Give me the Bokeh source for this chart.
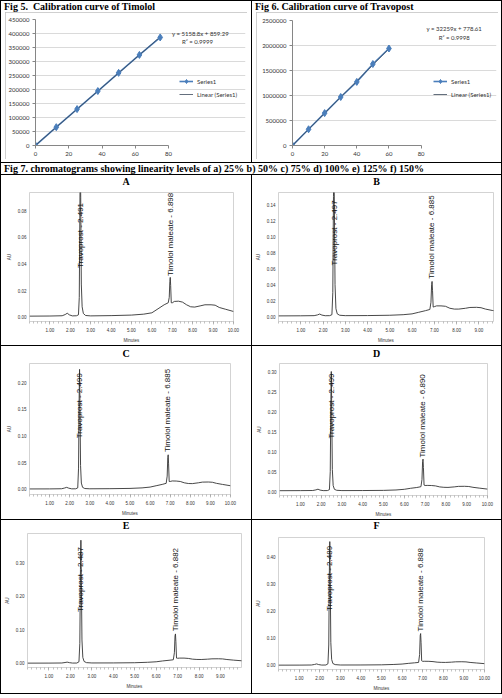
import math
from bokeh.plotting import figure
from bokeh.layouts import column, row
from bokeh.models import Div, Spacer, Range1d, Label, Legend, LegendItem, FixedTicker, PrintfTickFormatter
from bokeh.core.properties import value
from bokeh.embed import file_html
from bokeh.resources import INLINE

# ---------------- calibration data ----------------
tim_conc = [0, 12.5, 25, 37.5, 50, 62.5, 75]
tim_area = [0, 65500, 130000, 194500, 259500, 323500, 386000]
tim_slope, tim_icept = 5158.8, 859.29
trav_conc = [0, 10, 20, 30, 40, 50, 60]
trav_area = [0, 325000, 648000, 970000, 1272000, 1630000, 1940000]
trav_slope, trav_icept = 32259, 778.61
calib_xticks = [0, 20, 40, 60, 80]

# ---------------- chromatogram data ----------------
t_min = [0.00, 1.00, 1.60, 1.75, 1.85, 1.95, 2.10, 2.30, 2.40, 2.44,
         2.47, 2.49, 2.51, 2.54, 2.58, 2.64, 2.75, 3.00, 4.00, 5.00,
         5.60, 6.00, 6.30, 6.60, 6.80, 6.85, 6.88, 6.90, 6.92, 6.95,
         7.00, 7.10, 7.30, 7.50, 7.70, 7.90, 8.10, 8.40, 8.60, 8.90,
         9.10, 9.30, 9.60, 10.00]
A_au = [0.0010, 0.0011, 0.0013, 0.0022, 0.0032, 0.0020, 0.0012, 0.0013, 0.0020, 0.0150,
        0.0800, 0.1300, 0.0900, 0.0250, 0.0080, 0.0030, 0.0015, 0.0012, 0.0014, 0.0018,
        0.0025, 0.0035, 0.0065, 0.0095, 0.0110, 0.0150, 0.0270, 0.0300, 0.0240, 0.0110,
        0.0110, 0.0120, 0.0122, 0.0115, 0.0095, 0.0080, 0.0078, 0.0088, 0.0095, 0.0095,
        0.0092, 0.0075, 0.0062, 0.0045]
B_au = [0.0010, 0.0011, 0.0013, 0.0022, 0.0033, 0.0020, 0.0012, 0.0013, 0.0025, 0.0300,
        0.1500, 0.2000, 0.1400, 0.0400, 0.0100, 0.0035, 0.0018, 0.0013, 0.0014, 0.0018,
        0.0025, 0.0035, 0.0055, 0.0075, 0.0090, 0.0180, 0.0400, 0.0440, 0.0330, 0.0120,
        0.0125, 0.0135, 0.0135, 0.0130, 0.0105, 0.0095, 0.0095, 0.0105, 0.0115, 0.0117,
        0.0112, 0.0095, 0.0078, 0.0065]
C_au = [0.0010, 0.0011, 0.0014, 0.0028, 0.0040, 0.0025, 0.0012, 0.0013, 0.0030, 0.0400,
        0.1700, 0.2250, 0.1600, 0.0450, 0.0120, 0.0040, 0.0018, 0.0013, 0.0015, 0.0020,
        0.0030, 0.0045, 0.0070, 0.0095, 0.0115, 0.0250, 0.0600, 0.0650, 0.0480, 0.0150,
        0.0150, 0.0160, 0.0158, 0.0150, 0.0125, 0.0112, 0.0110, 0.0125, 0.0138, 0.0140,
        0.0135, 0.0115, 0.0095, 0.0070]
D_au = [0.0020, 0.0022, 0.0025, 0.0040, 0.0058, 0.0035, 0.0022, 0.0023, 0.0045, 0.0500,
        0.2300, 0.3000, 0.2100, 0.0550, 0.0150, 0.0055, 0.0030, 0.0023, 0.0024, 0.0028,
        0.0038, 0.0055, 0.0080, 0.0100, 0.0120, 0.0300, 0.0750, 0.0810, 0.0600, 0.0160,
        0.0150, 0.0152, 0.0150, 0.0140, 0.0115, 0.0105, 0.0102, 0.0115, 0.0128, 0.0130,
        0.0125, 0.0105, 0.0085, 0.0060]
E_au = [0.0010, 0.0011, 0.0014, 0.0028, 0.0040, 0.0025, 0.0012, 0.0013, 0.0050, 0.0600,
        0.2800, 0.3670, 0.2600, 0.0700, 0.0180, 0.0060, 0.0025, 0.0015, 0.0016, 0.0022,
        0.0035, 0.0050, 0.0075, 0.0095, 0.0110, 0.0320, 0.0820, 0.0880, 0.0650, 0.0160,
        0.0155, 0.0160, 0.0160, 0.0150, 0.0128, 0.0120, 0.0118, 0.0128, 0.0138, 0.0140,
        0.0135, 0.0118, 0.0100, 0.0080]
F_au = [0.0010, 0.0011, 0.0015, 0.0035, 0.0055, 0.0030, 0.0013, 0.0015, 0.0060, 0.0750,
        0.3500, 0.4550, 0.3200, 0.0850, 0.0220, 0.0070, 0.0030, 0.0015, 0.0016, 0.0022,
        0.0035, 0.0050, 0.0075, 0.0095, 0.0110, 0.0400, 0.1100, 0.1170, 0.0850, 0.0170,
        0.0150, 0.0152, 0.0150, 0.0140, 0.0120, 0.0112, 0.0110, 0.0120, 0.0132, 0.0135,
        0.0130, 0.0110, 0.0090, 0.0065]

peak_names = ["Travoprost", "Timolol maleate"]
A_rt = [2.491, 6.898]
B_rt = [2.497, 6.885]
C_rt = [2.499, 6.885]
D_rt = [2.499, 6.890]
E_rt = [2.487, 6.882]
F_rt = [2.489, 6.888]
A_lab_y = [0.037, 0.031]
B_lab_y = [0.064, 0.0475]
C_lab_y = [0.096, 0.070]
D_lab_y = [0.1325, 0.085]
E_lab_y = [0.153, 0.096]
F_lab_y = [0.200, 0.125]

A_yticks = [0.00, 0.02, 0.04, 0.06, 0.08]
B_yticks = [0.00, 0.02, 0.04, 0.06, 0.08, 0.10, 0.12, 0.14]
C_yticks = [0.00, 0.05, 0.10, 0.15, 0.20]
D_yticks = [0.00, 0.05, 0.10, 0.15, 0.20, 0.25, 0.30]
E_yticks = [0.00, 0.10, 0.20, 0.30]
F_yticks = [0.00, 0.10, 0.20, 0.30, 0.40]
x_ticks = [1, 2, 3, 4, 5, 6, 7, 8, 9, 10]

SERIF = "'Liberation Serif', 'Times New Roman', serif"


def hline(w):
    return Div(text="", width=w, height=1, margin=0, styles={"background-color": "#000000", "overflow": "hidden"})


def vline(h):
    return Div(text="", width=1, height=h, margin=0, styles={"background-color": "#000000", "overflow": "hidden"})


def text_div(txt, w, h, align="left", pad=3, size=10):
    html = ('<div style="font-family:%s;font-weight:bold;font-size:%dpx;line-height:%dpx;'
            'text-align:%s;padding-left:%dpx;white-space:nowrap;width:%dpx;display:block;">%s</div>'
            % (SERIF, size, h, align, pad, w - pad, txt))
    return Div(text=html, width=w, height=h, margin=0,
               styles={"overflow": "visible", "font-size": "%dpx" % size, "line-height": "%dpx" % h,
                       "font-family": SERIF, "font-weight": "bold"})


def calib(conc, area, slope, icept, ymax, ystep, borders, x_end, eq_text, r2_text, eq_xy, r2_xy, leg_loc):
    l, r, t, b = borders
    p = figure(width=242, height=147, output_backend="svg", toolbar_location=None,
               x_range=Range1d(0, x_end), y_range=Range1d(0, ymax),
               min_border_left=l, min_border_right=r, min_border_top=t, min_border_bottom=b,
               styles={"outline": "1px solid #bfbfbf", "outline-offset": "-1px"})
    p.outline_line_color = None
    p.xgrid.grid_line_color = None
    p.ygrid.grid_line_color = "#d0d0d0"
    p.ygrid.grid_line_width = 0.8
    p.ygrid.bounds = (0, 80)
    p.xaxis.ticker = FixedTicker(ticks=calib_xticks)
    p.xaxis.bounds = (0, 80)
    yt = list(range(0, ymax + 1, ystep))
    p.yaxis.ticker = FixedTicker(ticks=yt)
    p.ygrid.ticker = FixedTicker(ticks=yt)
    p.yaxis.formatter = PrintfTickFormatter(format="%d")
    for ax in (p.xaxis[0], p.yaxis[0]):
        ax.axis_line_color = "#868686"
        ax.major_tick_line_color = "#868686"
        ax.major_tick_out = 3
        ax.major_tick_in = 0
        ax.minor_tick_line_color = None
        ax.major_label_text_font = "Lato"
        ax.major_label_text_font_size = "6px"
        ax.major_label_text_color = "#333333"
        ax.major_label_standoff = 3
    r1 = p.line(conc, area, line_color="#4A7EBB", line_width=1.6)
    tx = [conc[0], conc[-1]]
    ty = [slope * x + icept for x in tx]
    r3 = p.line(tx, ty, line_color="#3c4a5c", line_width=0.8)
    r2 = p.scatter(conc, area, marker="diamond", size=7, fill_color="#4A7EBB", line_color="#4A7EBB")
    leg = Legend(items=[LegendItem(label="Series1", renderers=[r1, r2]),
                        LegendItem(label="Linear (Series1)", renderers=[r3])],
                 location=leg_loc, orientation="vertical",
                 background_fill_alpha=0, border_line_color=None,
                 padding=0, margin=0, spacing=3, glyph_width=14, glyph_height=10,
                 label_height=10, label_standoff=4,
                 label_text_font="Lato", label_text_font_size="6px", label_text_color="#333333")
    p.add_layout(leg)
    p.add_layout(Label(x=eq_xy[0], y=eq_xy[1], text=eq_text, text_align="center", text_baseline="middle",
                       text_font="Lato", text_font_size="6px", text_color="#333333"))
    p.add_layout(Label(x=r2_xy[0], y=r2_xy[1], text=r2_text, text_align="center", text_baseline="middle",
                       text_font="Lato", text_font_size="6px", text_color="#333333"))
    return p


def chrom(letter, au, rts, lab_y, yticks, x_end, yr, cell_w, header_h, fig_h, borders):
    l, r, t, b = borders
    header = text_div(letter, cell_w, header_h, align="center", pad=0, size=10)
    p = figure(width=cell_w, height=fig_h, output_backend="svg", toolbar_location=None,
               x_range=Range1d(0, x_end), y_range=Range1d(yr[0], yr[1]),
               min_border_left=l, min_border_right=r, min_border_top=t, min_border_bottom=b)
    p.outline_line_color = "#c8c8c8"
    p.outline_line_width = 0.8
    p.xgrid.grid_line_color = None
    p.ygrid.grid_line_color = None
    p.line(t_min, au, line_color="#333333", line_width=0.9)
    labels = ["%s - %.3f" % (n, v) for n, v in zip(peak_names, rts)]
    p.text(x=rts, y=lab_y, text=labels, angle=math.pi / 2,
           text_font=value("Liberation Sans"), text_font_size="8px",
           text_align="left", text_baseline="middle", text_color="#111111")
    p.xaxis.ticker = FixedTicker(ticks=x_ticks, minor_ticks=[i / 5 for i in range(0, 51)])
    p.xaxis.formatter = PrintfTickFormatter(format="%.2f")
    p.yaxis.ticker = FixedTicker(ticks=yticks)
    p.yaxis.formatter = PrintfTickFormatter(format="%.2f")
    p.xaxis.axis_label = "Minutes"
    p.yaxis.axis_label = "AU"
    for ax in (p.xaxis[0], p.yaxis[0]):
        ax.axis_line_color = None
        ax.major_label_text_font = "Liberation Sans"
        ax.major_label_text_font_size = "4.5px"
        ax.major_label_text_color = "#333333"
        ax.axis_label_text_font = "Liberation Sans"
        ax.axis_label_text_font_size = "4.5px"
        ax.axis_label_text_font_style = "normal"
        ax.axis_label_text_color = "#333333"
        ax.major_tick_in = 0
        ax.minor_tick_in = 0
        ax.major_tick_line_color = "#999999"
        ax.minor_tick_line_color = "#999999"
        ax.major_tick_line_width = 0.6
        ax.minor_tick_line_width = 0.6
    p.xaxis.major_tick_out = 3
    p.xaxis.minor_tick_out = 2
    p.xaxis.major_label_standoff = 3
    p.xaxis.axis_label_standoff = 3
    p.yaxis.major_tick_out = 0
    p.yaxis.minor_tick_out = 0
    p.yaxis.major_label_standoff = 3
    p.yaxis.axis_label_standoff = 3
    return column(header, p, spacing=0)


# ---------------- top row: calibration curves ----------------
p5 = calib(tim_conc, tim_area, tim_slope, tim_icept, 450000, 50000, (29, 2, 7, 14), 126.3,
           "y = 5158.8x + 859.29", "R\u00b2 = 0.9999", (99.2, 399600), (97.4, 370800), (144, 46))
p6 = calib(trav_conc, trav_area, trav_slope, trav_icept, 2500000, 500000, (36, 2, 8, 14), 126.9,
           "y = 32259x + 778.61", "R\u00b2 = 0.9998", (100.6, 2339000), (100.6, 2157000), (141, 46))

cell5 = column(text_div("Fig 5.&nbsp; Calibration curve of Timolol", 250, 11),
               row(Spacer(width=4, height=147, margin=0), p5, Spacer(width=4, height=147, margin=0), spacing=0),
               Spacer(width=250, height=3, margin=0), spacing=0)
cell6 = column(text_div("Fig 6. Calibration curve of Travopost", 249, 11),
               row(Spacer(width=4, height=147, margin=0), p6, Spacer(width=3, height=147, margin=0), spacing=0),
               Spacer(width=249, height=3, margin=0), spacing=0)

# ---------------- chromatograms ----------------
cA = chrom("A", A_au, A_rt, A_lab_y, A_yticks, 10, (-0.003, 0.0935), 250, 13, 157, (28, 18, 4, 23))
cB = chrom("B", B_au, B_rt, B_lab_y, B_yticks, 9.66, (-0.006, 0.155), 249, 13, 157, (26, 8, 4, 23))
cC = chrom("C", C_au, C_rt, C_lab_y, C_yticks, 10, (-0.0094, 0.236), 250, 15, 158, (28, 21, 2, 25))
cD = chrom("D", D_au, D_rt, D_lab_y, D_yticks, 10, (-0.010, 0.320), 249, 15, 158, (27, 14, 2, 23))
cE = chrom("E", E_au, E_rt, E_lab_y, E_yticks, 9.98, (-0.012, 0.387), 250, 11, 162, (24, 10, 2, 26))
cF = chrom("F", F_au, F_rt, F_lab_y, F_yticks, 10, (-0.015, 0.470), 249, 11, 162, (26, 17, 6, 23))

fig7 = text_div("Fig 7. chromatograms showing linearity levels of a) 25% b) 50% c) 75% d) 100% e) 125% f) 150%", 500, 11)

layout = column(
    hline(502),
    row(vline(161), cell5, vline(161), cell6, vline(161), spacing=0),
    hline(502),
    row(vline(11), fig7, vline(11), spacing=0),
    hline(502),
    row(vline(170), cA, vline(170), cB, vline(170), spacing=0),
    hline(502),
    row(vline(173), cC, vline(173), cD, vline(173), spacing=0),
    hline(502),
    row(vline(173), cE, vline(173), cF, vline(173), spacing=0),
    hline(502),
    spacing=0,
)

open("out.html", "w").write(file_html(layout, INLINE))
